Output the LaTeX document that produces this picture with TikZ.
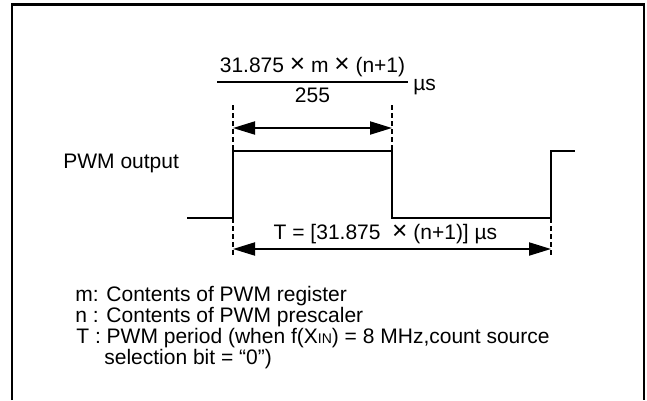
\documentclass[tikz,border=0pt]{standalone}
\usepackage{fontspec}
\usepackage{graphicx}
\setmainfont{Liberation Sans}
\usetikzlibrary{arrows.meta}

\tikzset{every picture/.style={line width=0.75pt}}
\tikzset{
  wave/.style={line width=2pt},
  guide/.style={line width=1.3pt, dash pattern=on 5pt off 3pt},
  span/.style={line width=2pt, {Triangle[length=22pt,width=13pt]}-{Triangle[length=22pt,width=13pt]}},
  lbl/.style={inner sep=0pt, font=\fontsize{21}{25}\selectfont},
}
\newcommand{\bigtimes}{\scalebox{1.25}{×}}

\begin{document}
\begin{tikzpicture}[x=1pt,y=1pt,yscale=-1,xscale=1]
		\useasboundingbox (0,0) rectangle (647,400);

		%frame, open at the bottom
		\draw [line width=2.5pt] (12,400) -- (12,4.5) -- (644,4.5) -- (644,400) ;

		%edges of the PWM signal
		\coordinate (lo0) at (187,218) ;
		\coordinate (lo1) at (233,218) ;
		\coordinate (hi1) at (233,150.5) ;
		\coordinate (hi2) at (392,150.5) ;
		\coordinate (lo2) at (392,218) ;
		\coordinate (lo3) at (551,218) ;
		\coordinate (hi3) at (551,150.5) ;
		\coordinate (hi4) at (575,150.5) ;

		\draw [wave] (lo0) -- (lo1) -- (hi1) -- (hi2) -- (lo2) -- (lo3) -- (hi3) -- (hi4) ;

		%guides and spans
		\coordinate (t1) at (233,105) ;
		\coordinate (t2) at (392,105) ;
		\coordinate (b1) at (233,255) ;
		\coordinate (b3) at (551,255) ;
		\draw [guide] (t1) -- (hi1) ;
		\draw [guide] (t2) -- (hi2) ;
		\draw [guide] (lo1) -- (b1) ;
		\draw [guide] (lo3) -- (b3) ;

		\coordinate (w1) at (233,128) ;
		\coordinate (w2) at (392,128) ;
		\coordinate (p1) at (233,249) ;
		\coordinate (p3) at (551,249) ;
		\draw [span] (w1) -- (w2) ;
		\draw [span] (p1) -- (p3) ;

		%high width formula
		\draw (312.5,72) node (num) [lbl, anchor=base] {31.875 \bigtimes{} m \bigtimes{} (n+1)};
		\draw [line width=1.5pt] (217,82) -- (408,82) ;
		\draw (312.5,102) node (den) [lbl, anchor=base] {255};
		\draw (413,90) node (unit) [lbl, anchor=base west] {µs};

		\draw (63,168) node (out) [lbl, anchor=base west] {PWM output};
		\draw (385.5,239) node (period) [lbl, anchor=base] {T = [31.875 \ \bigtimes{} (n+1)] µs};

		%notes
		\draw (75,301) node (nm) [lbl, anchor=base west] {m: Contents of PWM register};
		\draw (75,322) node (nn) [lbl, anchor=base west] {n : Contents of PWM prescaler};
		\draw (76,343) node (nt) [lbl, anchor=base west] {T : PWM period (when f(X{\fontsize{14}{16}\selectfont IN}) = 8 MHz,count source};
		\draw (104,364) node (nt2) [lbl, anchor=base west] {selection bit = “0”)};

		\end{tikzpicture}
\end{document}
